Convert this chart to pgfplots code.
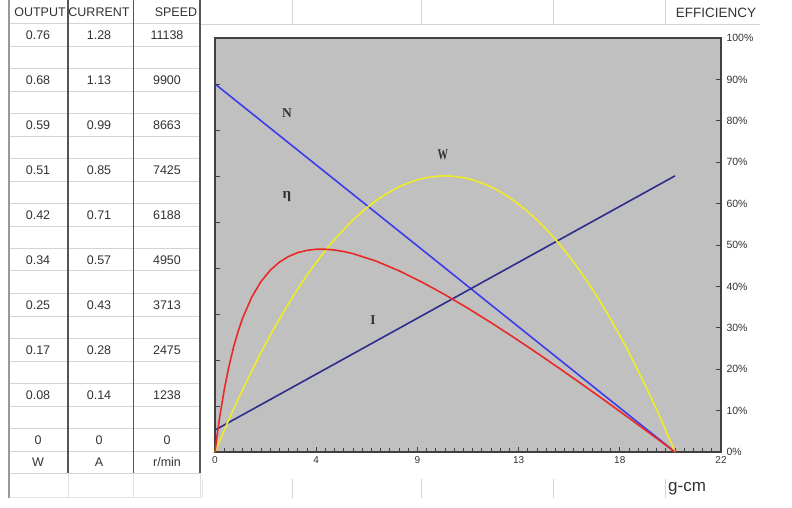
\documentclass[border=0pt]{standalone}
\usepackage{pgfplots}
\pgfplotsset{compat=1.18}
\usepackage{fontspec}
\setmainfont{Liberation Sans}
\newfontfamily\seriffont{Liberation Serif}
\definecolor{plotbg}{RGB}{192,192,192}
\definecolor{frame}{RGB}{64,64,64}
\definecolor{txt}{RGB}{50,50,50}
\definecolor{gridl}{RGB}{212,212,212}
\definecolor{coldark}{RGB}{85,85,85}
\definecolor{cN}{RGB}{60,60,235}
\definecolor{cI}{RGB}{45,45,140}
\definecolor{cW}{RGB}{240,235,40}
\definecolor{cE}{RGB}{235,40,40}
\begin{document}
\begin{tikzpicture}
\useasboundingbox (0,0) rectangle (792pt,-508pt);
\begin{scope}[x=1pt,y=-1pt]
  % light horizontal grid of the table
  \foreach \yy in {23.3,46.7,68.3,91.7,113.3,136.7,158.3,181.7,203.3,226.7,248.3,270,293.3,316.7,338.3,361.7,383.3,406.7,428.3,451.7,473.3}
    \draw[gridl, line width=0.9pt] (9,\yy) -- (200,\yy);
  \draw[gridl!60, line width=0.9pt] (9,497) -- (200,497);
  % top / bottom strips
  \draw[gridl, line width=0.9pt] (200,24) -- (760,24);
  \foreach \xx in {292,421,553,665} {
    \draw[gridl, line width=0.9pt] (\xx,0) -- (\xx,24);
    \draw[gridl, line width=0.9pt] (\xx,479) -- (\xx,498);
  }
  \draw[gridl!70, line width=0.9pt] (202,479) -- (202,498);
  % column lines
  \draw[gray!80, line width=2.2pt] (9,0) -- (9,498);
  \foreach \xx in {68,133.5,200} {
    \draw[coldark, line width=1.1pt] (\xx,0) -- (\xx,473);
    \draw[gridl!70, line width=0.9pt] (\xx,473) -- (\xx,498);
  }
  % table text
  \begin{scope}[every node/.style={font=\fontsize{12.5}{14}\selectfont, text=txt, inner sep=0pt}]
    \node at (40,12) {OUTPUT};
    \node at (99,12) {CURRENT};
    \node at (176,12) {SPEED};
    \foreach \o/\c/\s [count=\i from 0] in {0.76/1.28/11138,0.68/1.13/9900,0.59/0.99/8663,0.51/0.85/7425,0.42/0.71/6188,0.34/0.57/4950,0.25/0.43/3713,0.17/0.28/2475,0.08/0.14/1238,0/0/0} {
      \pgfmathsetmacro\yy{35+45*\i}
      \node at (38,\yy) {\o};
      \node at (99,\yy) {\c};
      \node at (167,\yy) {\s};
    }
    \node at (38,462) {W};
    \node at (99,462) {A};
    \node at (167,462) {r/min};
  \end{scope}
  \node[font=\fontsize{13.5}{15}\selectfont, text=txt, inner sep=0pt] at (716,13) {EFFICIENCY};
  \node[font=\fontsize{17}{19}\selectfont, text=txt, inner sep=0pt, anchor=west] at (668,489) {g-cm};
\end{scope}

% main axis: curves, bottom ticks, right percentage axis
\begin{axis}[
  at={(215pt,-452pt)}, anchor=south west,
  scale only axis, width=506pt, height=414pt,
  xmin=0, xmax=22, ymin=0, ymax=100,
  axis background/.style={fill=plotbg},
  axis line style={frame, line width=1.1pt},
  xtick={0,4.4,8.8,13.2,17.6,22},
  xticklabels={0,4,9,13,18,22},
  minor x tick num=10,
  xtick pos=bottom,
  ytick={0,10,...,100},
  ytick pos=right,
  yticklabel pos=right,
  yticklabel={\pgfmathprintnumber{\tick}\%},
  tick align=inside,
  major tick length=5pt, minor tick length=4pt,
  tick style={frame, line width=0.8pt},
  /pgf/number format/assume math mode=true,
  x tick label style={font=\fontsize{10}{12}\selectfont, text=txt, yshift=-1pt},
  y tick label style={font=\fontsize{10.5}{12}\selectfont, text=txt, xshift=2pt},
  clip=false,
]
\addplot[cN, line width=1.6pt] coordinates {(0,88.9) (20,0)};
\addplot[cI, line width=1.6pt] coordinates {(0,5.3) (20,66.7)};
\addplot[cW, line width=1.6pt, smooth] coordinates {
 (0,0) (0.5,6.50) (1,12.67) (2,24.01) (3,34.02) (4,42.69) (5,50.03) (6,56.03) (7,60.70) (8,64.03) (9,66.03) (10,66.70)
 (11,66.03) (12,64.03) (13,60.70) (14,56.03) (15,50.03) (16,42.69) (17,34.02) (18,24.01) (19,12.67) (19.5,6.50) (20,0)};
\addplot[cE, line width=1.6pt] coordinates {
 (0,0) (0.1,4.36) (0.2,8.27) (0.4,15.00) (0.6,20.54) (0.8,25.16) (1.0,29.03) (1.2,32.30) (1.6,37.44) (2.0,41.18)
 (2.4,43.90) (2.8,45.86) (3.2,47.24) (3.6,48.16) (4.0,48.71) (4.4,48.97) (4.8,48.98) (5.2,48.78) (5.6,48.42) (6.0,47.91)
 (7,46.12) (8,43.78) (9,41.03) (10,37.99) (11,34.71) (12,31.25) (13,27.64) (14,23.92) (15,20.10) (16,16.20) (17,12.23)
 (18,8.20) (19,4.12) (20,0)};
\node[font=\seriffont\bfseries\fontsize{13.5}{14}\selectfont, text=txt] at (axis cs:3.13,81.9) {N};
\node[font=\seriffont\bfseries\fontsize{15}{15}\selectfont, text=txt, xscale=0.7] at (axis cs:9.91,71.7) {W};
\node[font=\seriffont\bfseries\fontsize{15}{15}\selectfont, text=txt] at (axis cs:3.13,61.6) {η};
\node[font=\seriffont\bfseries\fontsize{13.5}{14}\selectfont, text=txt] at (axis cs:6.87,31.9) {I};
\end{axis}

% left-side ticks (table scale, 9 divisions)
\begin{axis}[
  at={(215pt,-452pt)}, anchor=south west,
  scale only axis, width=506pt, height=414pt,
  xmin=0, xmax=22, ymin=0, ymax=9,
  hide x axis,
  axis y line*=left,
  y axis line style={draw=none},
  ytick={1,...,8}, yticklabels={},
  tick align=inside, major tick length=5pt,
  tick style={frame, line width=0.8pt},
]
\end{axis}
\end{tikzpicture}
\end{document}
